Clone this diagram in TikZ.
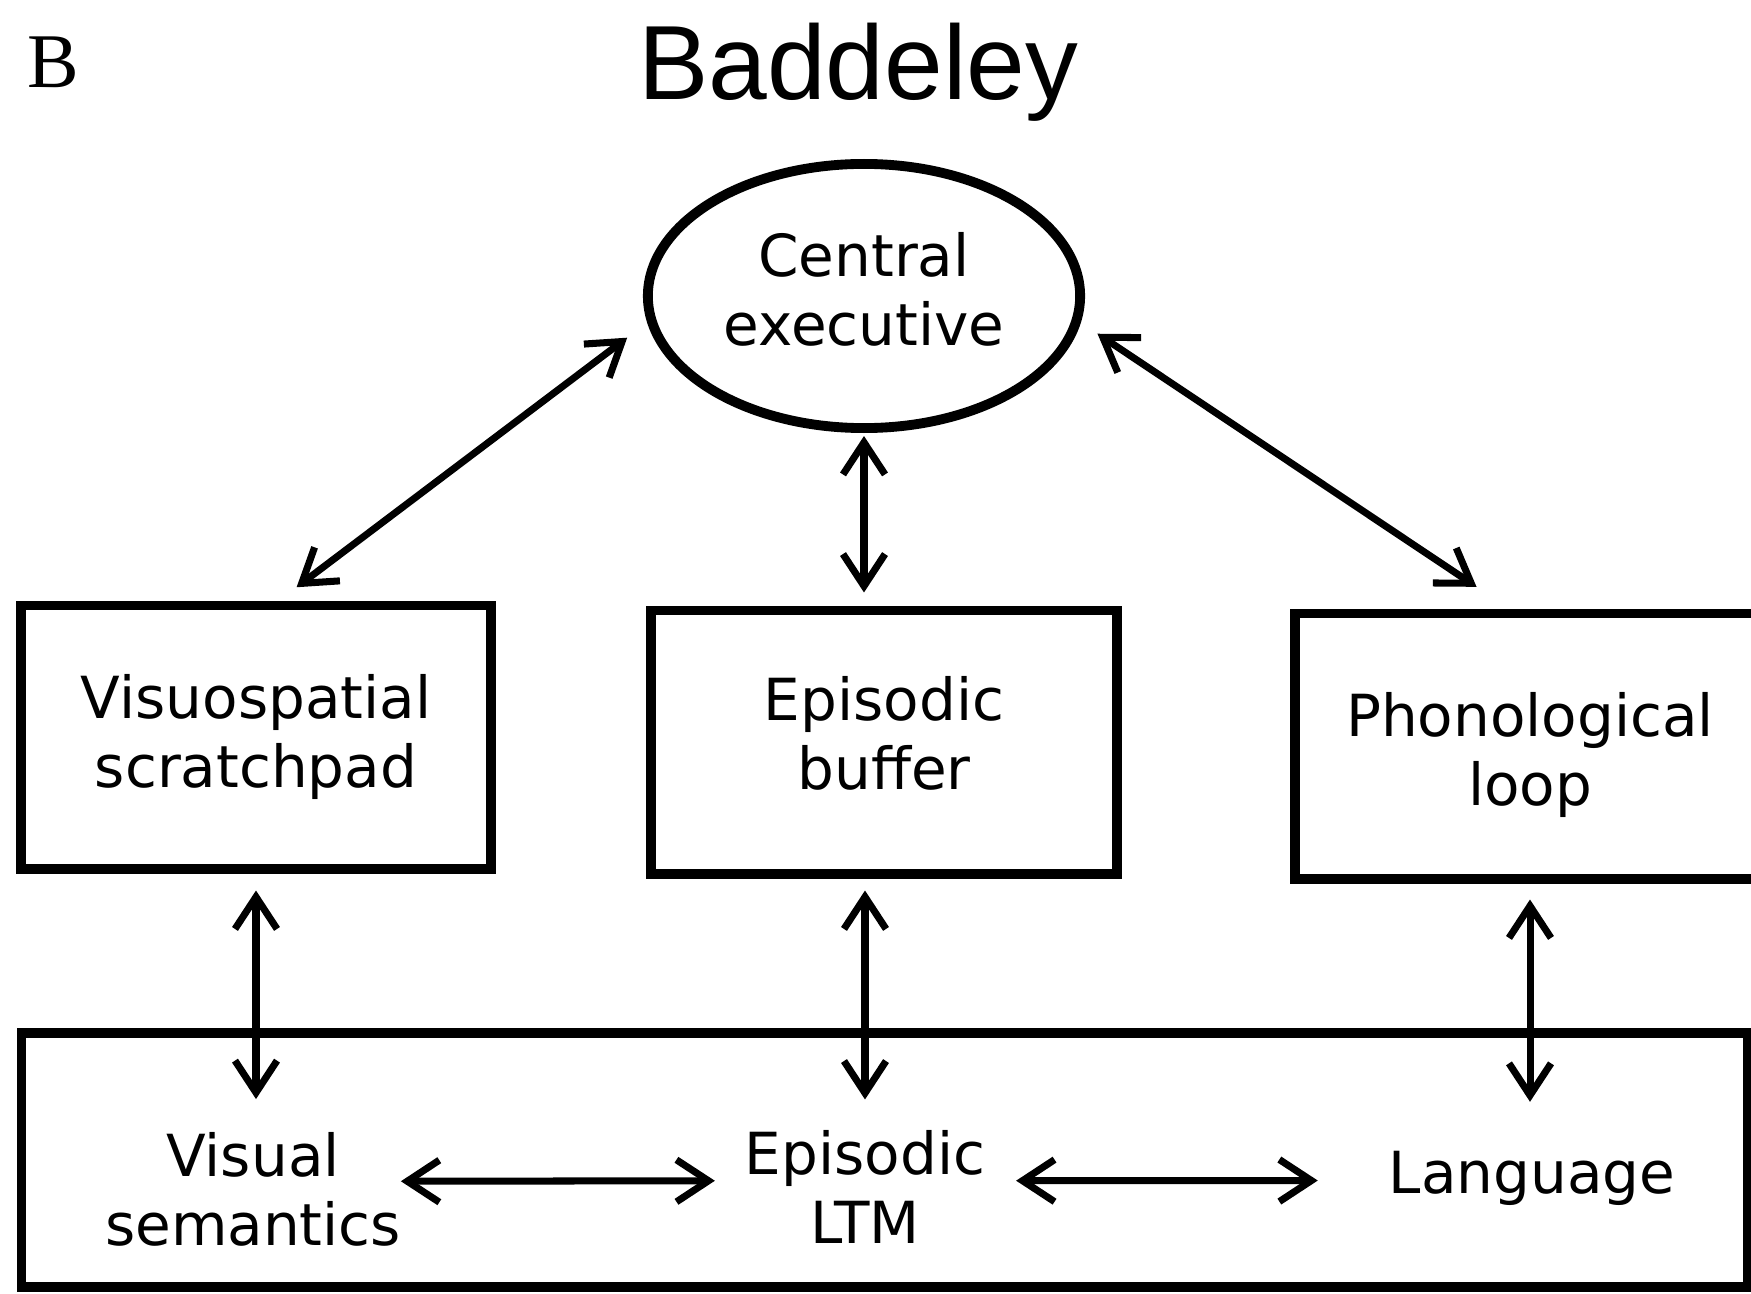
\documentclass[tikz,border=0pt]{standalone}
\usepackage{fontspec}
\setmainfont{DejaVu Sans}
\newfontfamily\titlefont{Liberation Sans}
\newfontfamily\panelfont{Liberation Serif}
\usetikzlibrary{arrows.meta,shapes.geometric}

\begin{document}
\begin{tikzpicture}[x=0.01cm,y=-0.01cm,>={Straight Barb[length=3.2mm,width=4.2mm]},
  line width=2pt,
  box node/.style={rectangle,draw,line width=2.8pt,align=center,inner sep=0pt,
    font=\fontsize{16.5}{19.6}\selectfont},
  exec node/.style={ellipse,draw,line width=2.8pt,align=center,inner sep=0pt,
    minimum width=4.32cm,minimum height=2.64cm,font=\fontsize{16.5}{19.6}\selectfont},
  ltm node/.style={align=center,inner sep=0pt,outer sep=0pt,
    font=\fontsize{16.5}{19.6}\selectfont}]

  \clip (0,0) rectangle (1751,1294);

  \node[anchor=base,font=\panelfont\fontsize{22}{26}\selectfont] (panel) at (53,88) {B};
  \node[anchor=base,font=\titlefont\fontsize{30}{36}\selectfont] (title) at (858,100) {Baddeley};

  \node[exec node] (ce) at (864,296) {Central\\executive\rule[-4pt]{0pt}{4pt}};
  \node[box node,minimum width=4.69cm,minimum height=2.63cm] (vis) at (256,737) {Visuospatial\\scratchpad};
  \node[box node,minimum width=4.66cm,minimum height=2.63cm] (buf) at (884,742) {Episodic\\buffer\rule[-5.2pt]{0pt}{5.2pt}};
  \node[box node,minimum width=4.70cm,minimum height=2.65cm] (phon) at (1530,746) {\rule{0pt}{17.7pt}Phonological\\loop};

  \node[box node,minimum width=17.25cm,minimum height=2.54cm] (ltm) at (884.5,1160) {};
  \node[ltm node] (vsem) at (253,1189) {Visual\\semantics};
  \node[ltm node] (eltm) at (865,1187) {Episodic\\LTM};
  \node[ltm node] (lang) at (1532,1178) {Language};

  % links to the central executive
  \draw[<->,shorten <=0.22cm,shorten >=0.25cm] ([xshift=0.23cm]vis.north) -- (ce.187);
  \draw[<->,shorten <=0.03cm,shorten >=0.13cm] (ce.south) -- (ce.south |- buf.north);
  \draw[<->,shorten <=0.2cm,shorten >=0.39cm] (ce.353) -- ([xshift=-0.21cm]phon.north);

  % links down to long-term memory
  \draw[<->,shorten <=0.17cm,shorten >=0.33cm] (vis.south) -- (vis.south |- vsem.north);
  \draw[<->,shorten <=0.12cm,shorten >=0.31cm] (eltm.north |- buf.south) -- (eltm.north);
  \draw[<->,shorten <=0.16cm,shorten >=0.49cm] (phon.south) -- (phon.south |- lang.north);

  \draw[<->,shorten >=0.3cm] (vsem.3) -- (eltm.177);
  \draw[<->,shorten <=0.31cm,shorten >=0.71cm] (eltm.3) -- (lang.181);
\end{tikzpicture}
\end{document}
